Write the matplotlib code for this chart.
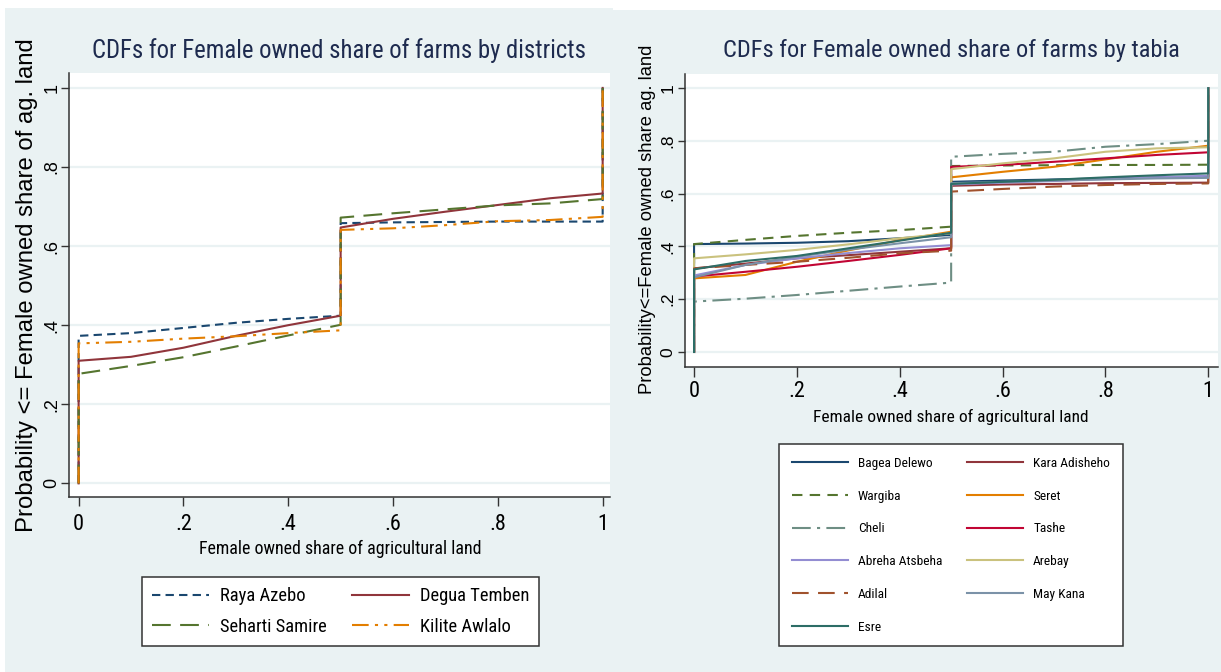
import matplotlib
matplotlib.use("Agg")
import matplotlib.pyplot as plt
from matplotlib import font_manager
from matplotlib.font_manager import FontProperties
from matplotlib.patches import Rectangle

share_lo = [0.0, 0.1, 0.2, 0.3, 0.4, 0.5]
share_hi = [0.5, 0.6, 0.7, 0.8, 0.9, 1.0]

# districts: cumulative probability below and above the 0.5 jump
district_names = ["Raya Azebo", "Degua Temben", "Seharti Samire", "Kilite Awlalo"]
district_lo = [
    [0.373, 0.380, 0.393, 0.406, 0.416, 0.424],
    [0.310, 0.320, 0.343, 0.373, 0.400, 0.424],
    [0.277, 0.297, 0.319, 0.346, 0.374, 0.401],
    [0.354, 0.358, 0.366, 0.372, 0.380, 0.387],
]
district_hi = [
    [0.658, 0.660, 0.661, 0.662, 0.662, 0.662],
    [0.647, 0.669, 0.687, 0.704, 0.721, 0.733],
    [0.672, 0.683, 0.693, 0.703, 0.708, 0.719],
    [0.641, 0.645, 0.653, 0.663, 0.666, 0.674],
]

# tabias
tabia_names = ["Bagea Delewo", "Kara Adisheho", "Wargiba", "Seret", "Cheli", "Tashe",
               "Abreha Atsbeha", "Arebay", "Adilal", "May Kana", "Esre"]
tabia_lo = [
    [0.409, 0.411, 0.414, 0.420, 0.431, 0.444],
    [0.317, 0.335, 0.355, 0.367, 0.380, 0.393],
    [0.409, 0.425, 0.440, 0.452, 0.462, 0.475],
    [0.279, 0.292, 0.342, 0.385, 0.424, 0.456],
    [0.191, 0.202, 0.216, 0.232, 0.248, 0.263],
    [0.286, 0.304, 0.323, 0.345, 0.368, 0.393],
    [0.290, 0.330, 0.355, 0.375, 0.393, 0.405],
    [0.355, 0.370, 0.387, 0.408, 0.431, 0.450],
    [0.317, 0.330, 0.342, 0.357, 0.374, 0.384],
    [0.283, 0.330, 0.361, 0.388, 0.412, 0.435],
    [0.313, 0.345, 0.364, 0.393, 0.422, 0.452],
]
tabia_hi = [
    [0.645, 0.650, 0.654, 0.658, 0.662, 0.665],
    [0.630, 0.635, 0.637, 0.640, 0.641, 0.642],
    [0.705, 0.707, 0.708, 0.709, 0.709, 0.710],
    [0.662, 0.683, 0.702, 0.730, 0.759, 0.782],
    [0.740, 0.751, 0.759, 0.778, 0.788, 0.801],
    [0.702, 0.709, 0.721, 0.734, 0.747, 0.757],
    [0.635, 0.642, 0.648, 0.656, 0.662, 0.668],
    [0.693, 0.715, 0.734, 0.759, 0.772, 0.776],
    [0.608, 0.618, 0.627, 0.633, 0.637, 0.639],
    [0.640, 0.645, 0.650, 0.654, 0.658, 0.660],
    [0.637, 0.645, 0.653, 0.662, 0.670, 0.677],
]

tick_vals = [0, 0.2, 0.4, 0.6, 0.8, 1]
tick_text = ["0", ".2", ".4", ".6", ".8", "1"]

district_colors = ["#1a476f", "#90353b", "#55752f", "#e37e00"]
district_dashes = [(4, 2.5), None, (9, 4.5), (8, 3, 1.5, 3, 1.5, 3)]
tabia_colors = ["#1a476f", "#90353b", "#55752f", "#e37e00", "#6e8e84", "#c10534",
                "#938dd2", "#cac27e", "#a0522d", "#7b92a8", "#2d6d66"]
tabia_dashes = [None, None, (5, 3.5), None, (9, 3, 1.5, 3), None,
                None, None, (8, 4.5), None, None]

BG = "#eaf2f3"
W, H = 1221, 672


def find_narrow():
    """look for a narrow / condensed sans face, else None"""
    prefs = ["Liberation Sans Narrow", "Arial Narrow", "Roboto Condensed",
             "Noto Sans", "Open Sans", "DejaVu Sans", "Roboto", "Liberation Sans"]
    found = []
    for f in font_manager.fontManager.ttflist:
        tag = (f.name + " " + f.fname).lower()
        narrowish = ("narrow" in tag or "condensed" in tag
                     or str(f.stretch) in ("condensed", "semi-condensed", "extra-condensed", "75", "87.5"))
        if not narrowish or f.style != "normal":
            continue
        if "bold" in tag or "light" in tag or "thin" in tag or "medium" in tag or "black" in tag:
            continue
        rank = len(prefs)
        for i, p in enumerate(prefs):
            if f.name.startswith(p):
                rank = i
                break
        found.append((rank, f.fname))
    if not found:
        return None
    found.sort()
    return found[0][1]


narrow_file = find_narrow()
shrink = 1.0 if narrow_file else 0.84


def nfont(size):
    if narrow_file:
        return FontProperties(fname=narrow_file, size=size)
    return FontProperties(family=["Liberation Sans", "DejaVu Sans"], size=size * shrink)


def rfont(size):
    return FontProperties(family=["Liberation Sans", "DejaVu Sans"], size=size)


def fx(px):
    return px / W


def fy(py):
    return 1 - py / H


def cdf_path(lo, hi):
    xs = [0.0] + share_lo + share_hi + [1.0]
    ys = [0.0] + lo + hi + [1.0]
    return xs, ys


def style_axes(ax, xlim, ylim, ypad, xpad, ylen, xlen, ysize, xsize):
    ax.set_xlim(*xlim)
    ax.set_ylim(*ylim)
    ax.set_facecolor("white")
    for s in ["top", "right"]:
        ax.spines[s].set_visible(False)
    for s in ["left", "bottom"]:
        ax.spines[s].set_color("#333333")
        ax.spines[s].set_linewidth(1.1)
    ax.set_yticks(tick_vals)
    ax.set_yticklabels(tick_text, rotation=90, va="center")
    for lbl in ax.get_yticklabels():
        lbl.set_fontproperties(rfont(ysize))
    ax.set_xticks(tick_vals)
    ax.set_xticklabels(tick_text)
    for lbl in ax.get_xticklabels():
        lbl.set_fontproperties(nfont(xsize))
    ax.tick_params(axis="y", length=ylen, width=1, color="#333333", pad=ypad)
    ax.tick_params(axis="x", length=xlen, width=1, color="#333333", pad=xpad)
    ax.grid(axis="y", color=BG, linewidth=1.6)
    ax.set_axisbelow(True)


def draw_lines(ax, lo_list, hi_list, colors, dashes):
    handles = []
    for lo, hi, c, d in zip(lo_list, hi_list, colors, dashes):
        xs, ys = cdf_path(lo, hi)
        line, = ax.plot(xs, ys, color=c, linewidth=1.5)
        if d is not None:
            line.set_dashes(d)
        handles.append(line)
    return handles


fig = plt.figure(figsize=(W / 100, H / 100), dpi=100)
fig.patch.set_facecolor("white")
fig.patches.append(Rectangle((fx(5), 0), fx(608), fy(8), transform=fig.transFigure,
                             facecolor=BG, edgecolor="none", zorder=-10))
fig.patches.append(Rectangle((fx(613), 0), fx(W - 613), fy(10), transform=fig.transFigure,
                             facecolor=BG, edgecolor="none", zorder=-10))

# left panel: districts
ax1 = fig.add_axes([fx(68.5), fy(497.2), fx(610 - 68.5), (497.2 - 72.9) / H])
style_axes(ax1, (-0.0193, 1.014), (-0.035, 1.038), 0.4, 5.6, 5.5, 6.2, 13, 16)
h1 = draw_lines(ax1, district_lo, district_hi, district_colors, district_dashes)

fig.text(fx(339.5), fy(50.6), "CDFs for Female owned share of farms by districts",
         ha="center", va="center", color="#1e2b4f", fontproperties=nfont(17.8))
fig.text(fx(27), fy(285), "Probability <= Female owned share of ag. land", rotation=90,
         ha="center", va="center", fontproperties=rfont(17.2))
fig.text(fx(340), fy(548.6), "Female owned share of agricultural land",
         ha="center", va="center", fontproperties=nfont(12.9))

order1 = [0, 2, 1, 3]
leg1 = fig.legend([h1[i] for i in order1], [district_names[i] for i in order1],
                  loc="center", bbox_to_anchor=(fx(340.5), fy(611.5)), ncol=2,
                  prop=nfont(13.3), handlelength=3.1, columnspacing=1.4, labelspacing=0.68,
                  handletextpad=0.57, borderpad=0.55, fancybox=False, framealpha=1)
leg1.get_frame().set_edgecolor("#333333")
leg1.get_frame().set_linewidth(1.1)

# right panel: tabias
ax2 = fig.add_axes([fx(684.8), fy(367), fx(1218 - 684.8), (367 - 73.7) / H])
style_axes(ax2, (-0.018, 1.019), (-0.057, 1.055), 2, 3.2, 4.8, 7, 12.5, 16)
h2 = draw_lines(ax2, tabia_lo, tabia_hi, tabia_colors, tabia_dashes)

fig.text(fx(951), fy(50.5), "CDFs for Female owned share of farms by tabia",
         ha="center", va="center", color="#1e2b4f", fontproperties=nfont(17.6))
fig.text(fx(647), fy(219.5), "Probability<=Female owned share ag. land", rotation=90,
         ha="center", va="center", fontproperties=rfont(13.2))
fig.text(fx(951), fy(416.7), "Female owned share of agricultural land",
         ha="center", va="center", fontproperties=nfont(12.5))

order2 = [0, 2, 4, 6, 8, 10, 1, 3, 5, 7, 9]
leg2 = fig.legend([h2[i] for i in order2], [tabia_names[i] for i in order2],
                  loc="center", bbox_to_anchor=(fx(951), fy(545.2)), ncol=2,
                  prop=nfont(9.6), handlelength=4.2, columnspacing=1.9, labelspacing=1.48,
                  handletextpad=0.73, borderpad=0.95, fancybox=False, framealpha=1)
leg2.get_frame().set_edgecolor("#333333")
leg2.get_frame().set_linewidth(1.1)

fig.savefig("out.png", dpi=100, facecolor=fig.get_facecolor())
